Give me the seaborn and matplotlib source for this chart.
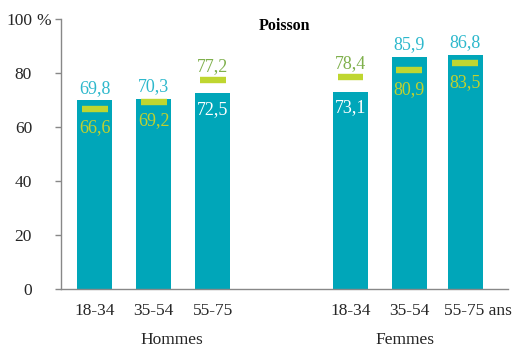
import matplotlib
matplotlib.use("Agg")
import matplotlib.pyplot as plt
import seaborn as sns
import pandas as pd

# Data
groups = ["Hommes", "Hommes", "Hommes", "Femmes", "Femmes", "Femmes"]
ages = ["18-34", "35-54", "55-75", "18-34", "35-54", "55-75 ans"]
bar_values = [69.8, 70.3, 72.5, 73.1, 85.9, 86.8]
marker_values = [66.6, 69.2, 77.2, 78.4, 80.9, 83.5]
positions = [0, 1, 2, 4.34, 5.34, 6.29]
y_ticks = [0, 20, 40, 60, 80, 100]
y_tick_labels = ["0", "20", "40", "60", "80", "100"]
title = "Poisson"

TEAL = "#00A6B9"
TEAL_TXT = "#2DB8CC"
LIME = "#BFD630"
LIME_TXT = "#C2D12E"
OLIVE_TXT = "#7FB04C"

sns.set_theme(style="white")
plt.rcParams["font.family"] = ["Liberation Serif", "DejaVu Serif"]

df = pd.DataFrame({"pos": positions, "val": bar_values, "mk": marker_values})

fig = plt.figure(figsize=(5.23, 3.49), dpi=100)
ax = fig.add_axes([0.117, 0.172, 0.854, 0.774])

# native_scale widths are relative to the smallest gap between positions (0.95)
sns.barplot(data=df, x="pos", y="val", native_scale=True, width=0.6 / 0.95,
            color=TEAL, saturation=1, linewidth=0, ax=ax)
ax.hlines(df["mk"], df["pos"] - 0.22, df["pos"] + 0.22, colors=LIME,
          linewidth=4.6, capstyle="butt", zorder=3)

pt = 72 / 100.0  # points per pixel
VFS = 13
for x, b, m in zip(positions, bar_values, marker_values):
    if b >= m:
        ax.annotate(f"{b:.1f}".replace(".", ","), (x, b), xytext=(0, 12 * pt),
                    textcoords="offset points", ha="center", va="center",
                    color=TEAL_TXT, fontsize=VFS)
        ax.annotate(f"{m:.1f}".replace(".", ","), (x, m), xytext=(0, -19 * pt),
                    textcoords="offset points", ha="center", va="center",
                    color=LIME_TXT, fontsize=VFS)
    else:
        ax.annotate(f"{m:.1f}".replace(".", ","), (x, m), xytext=(0, 14 * pt),
                    textcoords="offset points", ha="center", va="center",
                    color=OLIVE_TXT, fontsize=VFS)
        ax.annotate(f"{b:.1f}".replace(".", ","), (x, b), xytext=(0, -16 * pt),
                    textcoords="offset points", ha="center", va="center",
                    color="white", fontsize=VFS)

ax.set_xlim(-0.57, 7.01)
ax.set_ylim(0, 100)
ax.set_yticks(y_ticks)
ax.set_yticklabels(y_tick_labels, fontsize=12.5)
ax.set_xticks(positions)
# the last age label runs to the right of its bar, so it is drawn separately
ax.set_xticklabels(ages[:-1] + [""], fontsize=12.5)
ax.annotate(ages[-1], (positions[-1], 0), xycoords=("data", "axes fraction"),
            xytext=(-21, -22), textcoords="offset pixels", ha="left",
            va="center", fontsize=12.5)
ax.tick_params(axis="x", length=0, pad=10)
ax.tick_params(axis="y", direction="out", length=4, width=1, color="#888888",
               pad=17, left=True)
ax.set_xlabel("")
ax.set_ylabel("")

# percent sign trailing the top tick label
ax.annotate("%", (0, 100), xycoords=("axes fraction", "data"),
            xytext=(-25, -2), textcoords="offset pixels", ha="left", va="center",
            fontsize=12.5)

for s in ["top", "right"]:
    ax.spines[s].set_visible(False)
for s in ["left", "bottom"]:
    ax.spines[s].set_color("#888888")
    ax.spines[s].set_linewidth(1)

ax.text(0.5, 0.975, title, transform=ax.transAxes, ha="center", va="center",
        fontsize=11.5, fontweight="bold", color="black")

# group captions
ax.text(1.3, -0.19, "Hommes", transform=ax.get_xaxis_transform(),
        ha="center", va="center", fontsize=12.5)
ax.text(5.27, -0.19, "Femmes", transform=ax.get_xaxis_transform(),
        ha="center", va="center", fontsize=12.5)

fig.savefig("out.png", dpi=100)
